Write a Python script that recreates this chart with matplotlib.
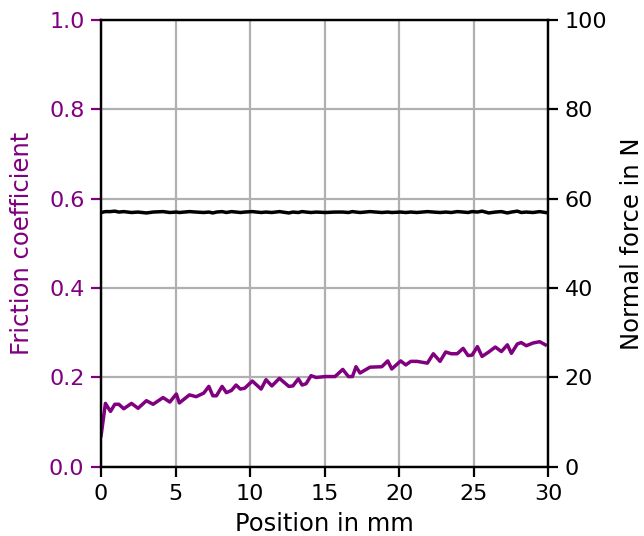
import matplotlib
matplotlib.use("Agg")
import matplotlib.pyplot as plt

# ---------------- Data ----------------
position_mm = [0.0, 0.29, 0.63, 0.92, 1.19, 1.52, 2.04, 2.48, 3.04, 3.49,
               4.16, 4.61, 5.05, 5.25, 5.93, 6.38, 6.89, 7.23, 7.5, 7.74,
               8.12, 8.41, 8.75, 9.06, 9.35, 9.64, 10.15, 10.74, 11.07, 11.46,
               11.97, 12.6, 12.87, 13.24, 13.49, 13.76, 14.09, 14.43, 15.05, 15.7,
               16.22, 16.6, 16.87, 17.11, 17.38, 18.05, 18.84, 19.24, 19.51, 20.11,
               20.45, 20.79, 21.2, 21.9, 22.3, 22.75, 23.13, 23.5, 23.9, 24.3,
               24.63, 24.9, 25.26, 25.57, 26.02, 26.46, 26.87, 27.27, 27.54, 27.94,
               28.2, 28.54, 28.99, 29.44, 29.82]

friction = [0.07, 0.142, 0.124, 0.140, 0.140, 0.130, 0.142, 0.131, 0.148, 0.140,
            0.155, 0.145, 0.163, 0.143, 0.161, 0.157, 0.165, 0.180, 0.159, 0.159,
            0.180, 0.166, 0.171, 0.183, 0.174, 0.176, 0.192, 0.174, 0.195, 0.181,
            0.198, 0.180, 0.181, 0.197, 0.183, 0.186, 0.204, 0.200, 0.202, 0.202,
            0.218, 0.202, 0.202, 0.224, 0.210, 0.223, 0.224, 0.237, 0.219, 0.237,
            0.228, 0.236, 0.236, 0.232, 0.253, 0.236, 0.257, 0.253, 0.253, 0.265,
            0.249, 0.250, 0.269, 0.247, 0.257, 0.268, 0.258, 0.273, 0.254, 0.275,
            0.278, 0.271, 0.277, 0.280, 0.273]

normal_force = [56.9, 57.1, 57.1, 57.2, 57.0, 57.1, 56.9, 57.0, 56.8, 57.0,
                57.1, 56.9, 57.0, 56.9, 57.1, 57.0, 56.9, 57.0, 56.8, 57.0,
                57.1, 56.9, 57.1, 57.0, 56.9, 57.0, 57.1, 56.9, 57.0, 56.9,
                57.1, 56.8, 57.0, 56.9, 57.1, 57.0, 56.9, 57.0, 56.9, 57.0,
                57.0, 56.9, 57.1, 57.0, 56.9, 57.1, 56.9, 57.0, 56.9, 57.0,
                56.9, 57.0, 56.9, 57.1, 57.0, 56.9, 57.0, 56.9, 57.1, 57.0,
                56.9, 57.1, 57.0, 57.2, 56.8, 57.0, 57.1, 56.8, 57.0, 57.2,
                56.9, 57.0, 56.9, 57.1, 56.9]

fric_color = "purple"

# ---------------- Plot ----------------
plt.rcParams["font.size"] = 16
plt.rcParams["axes.linewidth"] = 1.6

fig, ax = plt.subplots(figsize=(6.44, 5.36), dpi=100)
fig.subplots_adjust(left=0.157, right=0.851, top=0.963, bottom=0.129)

ax.plot(position_mm, friction, color=fric_color, linewidth=2.5)
ax.set_xlim(0, 30)
ax.set_ylim(0, 1)
ax.set_xlabel("Position in mm", fontsize=17.5, labelpad=6)
ax.set_ylabel("Friction coefficient", color=fric_color, fontsize=17.5, labelpad=11)
ax.tick_params(axis="y", colors=fric_color, length=7, width=1.6, pad=5)
ax.tick_params(axis="x", length=7, width=1.6, pad=5)
ax.set_yticks([0, 0.2, 0.4, 0.6, 0.8, 1.0])
ax.grid(True, color="#b0b0b0", linewidth=1.6)

ax2 = ax.twinx()
ax2.plot(position_mm, normal_force, color="black", linewidth=2.5)
ax2.set_ylim(0, 100)
ax2.set_ylabel("Normal force in N", fontsize=17.5, labelpad=9)
ax2.tick_params(axis="y", length=7, width=1.6, pad=5)

fig.savefig("out.png", dpi=100)
